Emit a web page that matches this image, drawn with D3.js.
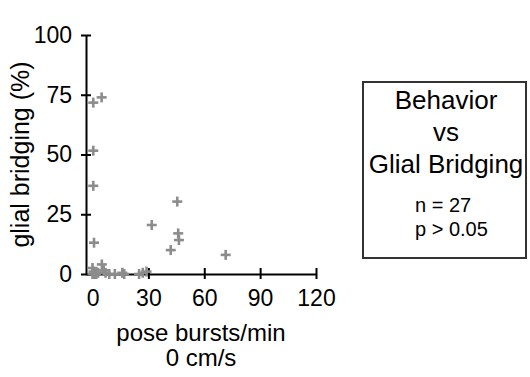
<!DOCTYPE html>
<html>
<head>
<meta charset="utf-8">
<script src="https://cdn.jsdelivr.net/npm/d3@7"></script>
<style>
  body { margin: 0; background: #fff; }
  text { font-family: "Liberation Sans", Arial, sans-serif; }
</style>
</head>
<body>
<svg id="chart" width="530" height="377"></svg>
<script>
// pose bursts/min (0 cm/s) vs glial bridging (%), n = 27
const burstRate = [0.4, 4.9, 0.4, 0.4, 0.8, 31.8, 45.5, 46, 46.4, 42, 71.5,
  0, 0.5, 1, 3, 5, 6, 7, 9, 16, 17, 25, 27, 29, 2, 0, 12]
const bridging = [71.7, 73.9, 51.6, 36.9, 13.1, 20.5, 30.3, 17, 14.2, 10, 8,
  2.5, 1, 0, 0.5, 4, 1.5, 0.5, 0, 0.5, 0, 0, 0.5, 1, 0, 0, 0]
const xTicks = [0, 30, 60, 90, 120]
const yTicks = [0, 25, 50, 75, 100]
const boxTitle = ["Behavior", "vs", "Glial Bridging"]
const boxStats = ["n = 27", "p > 0.05"]

const svg = d3.select("#chart")
const data = burstRate.map((x, i) => ({x: x, y: bridging[i]}))

const xScale = d3.scaleLinear().domain([-3.5, 120]).range([86, 316])
const yScale = d3.scaleLinear().domain([0, 100]).range([274, 35])

// x axis
const xAxis = svg.append("g").attr("class", "x-axis")
  .attr("transform", `translate(0,${yScale(0)})`)
  .call(d3.axisBottom(xScale).tickValues(xTicks).tickSizeOuter(0).tickSizeInner(6).tickPadding(10))
xAxis.selectAll(".tick line").attr("y1", -6).attr("y2", 5)

// y axis
const yAxis = svg.append("g").attr("class", "y-axis")
  .attr("transform", `translate(${xScale(-3.5)},0)`)
  .call(d3.axisLeft(yScale).tickValues(yTicks).tickSizeOuter(0).tickSizeInner(6).tickPadding(8))
yAxis.selectAll(".tick line").attr("x1", -5).attr("x2", 5)

svg.selectAll(".domain, .tick line").attr("stroke", "#000").attr("stroke-width", 2)
svg.selectAll(".tick text").attr("font-size", 23).attr("fill", "#000")
  .attr("font-family", "Liberation Sans, Arial, sans-serif")

// axis titles
svg.append("text")
  .attr("transform", `translate(29,${(yScale(0) + yScale(100)) / 2}) rotate(-90)`)
  .attr("text-anchor", "middle").attr("font-size", 25)
  .text("glial bridging (%)")
svg.append("text").attr("x", 201).attr("y", 341)
  .attr("text-anchor", "middle").attr("font-size", 24)
  .text("pose bursts/min")
svg.append("text").attr("x", 201).attr("y", 366)
  .attr("text-anchor", "middle").attr("font-size", 24)
  .text("0 cm/s")

// crosses
const arm = 5
const pts = svg.append("g").attr("class", "points")
  .attr("stroke", "#8c8c8c").attr("stroke-width", 2.6)
pts.selectAll(".h").data(data).join("line").attr("class", "h")
  .attr("x1", d => xScale(d.x) - arm).attr("x2", d => xScale(d.x) + arm)
  .attr("y1", d => yScale(d.y)).attr("y2", d => yScale(d.y))
pts.selectAll(".v").data(data).join("line").attr("class", "v")
  .attr("x1", d => xScale(d.x)).attr("x2", d => xScale(d.x))
  .attr("y1", d => yScale(d.y) - arm).attr("y2", d => yScale(d.y) + arm)

// legend box
svg.append("rect").attr("x", 363).attr("y", 82).attr("width", 163).attr("height", 176)
  .attr("fill", "#fff").attr("stroke", "#333").attr("stroke-width", 2)
svg.selectAll(".title").data(boxTitle).join("text").attr("class", "title")
  .attr("x", 446).attr("y", (d, i) => 109 + i * 32)
  .attr("text-anchor", "middle").attr("font-size", 26)
  .text(d => d)
svg.selectAll(".stat").data(boxStats).join("text").attr("class", "stat")
  .attr("x", 415).attr("y", (d, i) => 212 + i * 24)
  .attr("font-size", 20)
  .text(d => d)
</script>
</body>
</html>
